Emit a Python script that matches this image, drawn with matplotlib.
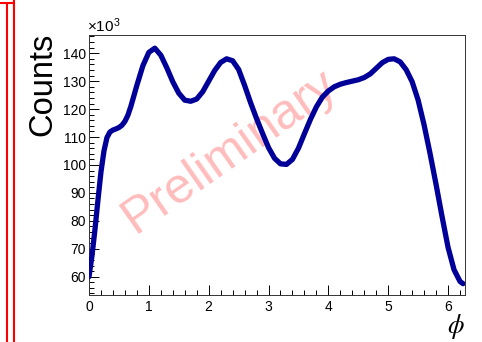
import matplotlib

matplotlib.use("Agg")
import matplotlib.pyplot as plt
from matplotlib.lines import Line2D
from matplotlib.ticker import MultipleLocator
import numpy as np

# azimuthal distribution, counts in units of 10^3
phi = [0.00, 0.05, 0.10, 0.15, 0.20, 0.25, 0.30, 0.35, 0.40, 0.45,
       0.50, 0.55, 0.60, 0.65, 0.70, 0.80, 0.90, 1.00, 1.10, 1.20,
       1.30, 1.40, 1.50, 1.60, 1.70, 1.80, 1.90, 2.00, 2.10, 2.20,
       2.30, 2.40, 2.50, 2.60, 2.70, 2.80, 2.90, 3.00, 3.10, 3.20,
       3.30, 3.40, 3.50, 3.60, 3.70, 3.80, 3.90, 4.00, 4.10, 4.20,
       4.30, 4.40, 4.50, 4.60, 4.70, 4.80, 4.90, 5.00, 5.10, 5.20,
       5.30, 5.40, 5.50, 5.60, 5.70, 5.80, 5.90, 6.00, 6.10, 6.20, 6.25]
counts = [60.0, 67.5, 77.0, 87.5, 97.5, 105.0, 109.8, 111.8, 112.5, 112.9,
          113.4, 114.2, 115.6, 117.8, 121.0, 128.5, 135.5, 140.3, 141.8, 139.3,
          134.8, 129.8, 125.7, 123.2, 122.8, 123.6, 126.2, 130.0, 133.8, 136.7,
          138.0, 137.3, 134.2, 128.5, 122.3, 116.6, 111.3, 106.2, 102.4, 100.4,
          100.2, 102.0, 106.0, 111.2, 116.3, 120.8, 124.3, 126.5, 128.0, 128.9,
          129.5, 130.0, 130.5, 131.3, 132.6, 134.6, 136.6, 137.8, 138.0, 136.9,
          134.1, 129.8, 123.2, 114.3, 104.0, 93.0, 81.5, 70.5, 62.5, 58.3, 57.5]

plt.rcParams.update({
    "font.family": "Liberation Sans",
    "mathtext.fontset": "custom",
    "mathtext.rm": "Liberation Sans",
    "mathtext.it": "Liberation Sans:italic",
})

fig = plt.figure(figsize=(4.82, 3.42), dpi=100)
ax = fig.add_axes([89 / 482, 1 - 295 / 342, 376 / 482, 260.5 / 342])

ax.text(0.375, 0.55, "Preliminary", transform=ax.transAxes, rotation=35,
        ha="center", va="center", fontsize=36, color="#ffbcbc", zorder=1)
ax.plot(phi, counts, color="#000099", lw=3.8, solid_capstyle="round",
        solid_joinstyle="round", zorder=3)

ax.set_xlim(0, 2 * np.pi)
ax.set_ylim(53.45, 146.7)
ax.xaxis.set_major_locator(MultipleLocator(1))
ax.xaxis.set_minor_locator(MultipleLocator(0.2))
ax.yaxis.set_major_locator(MultipleLocator(10))
ax.yaxis.set_minor_locator(MultipleLocator(2))
ax.tick_params(which="both", direction="in", top=False, right=False,
               labelsize=10, width=0.7)
ax.tick_params(axis="x", which="major", length=7, pad=3.5)
ax.tick_params(axis="x", which="minor", length=3.5)
ax.tick_params(axis="y", which="major", length=7, pad=2)
ax.tick_params(axis="y", which="minor", length=3.5)
for s in ax.spines.values():
    s.set_linewidth(0.7)
    s.set_color("#333333")

fig.text(87 / 482, 1 - 32 / 342, r"$\times10^{3}$", fontsize=11,
         ha="left", va="baseline")
fig.text(43 / 482, 1 - 33 / 342, "Counts", rotation=90, fontsize=23.5,
         ha="center", va="top")
fig.text(465 / 482, 1 - 341 / 342, r"$\phi$", fontsize=19,
         ha="right", va="bottom", math_fontfamily="stix")

# red border strips down the left edge
red = dict(color="red", lw=1.5, transform=fig.transFigure)
fig.add_artist(Line2D([7 / 482, 7 / 482], [0, 1 - 5 / 342], **red))
fig.add_artist(Line2D([13.5 / 482, 13.5 / 482], [0, 1], **red))
fig.add_artist(Line2D([0, 13.5 / 482], [1 - 3 / 342, 1 - 3 / 342], **red))

fig.savefig("out.png", dpi=100)
